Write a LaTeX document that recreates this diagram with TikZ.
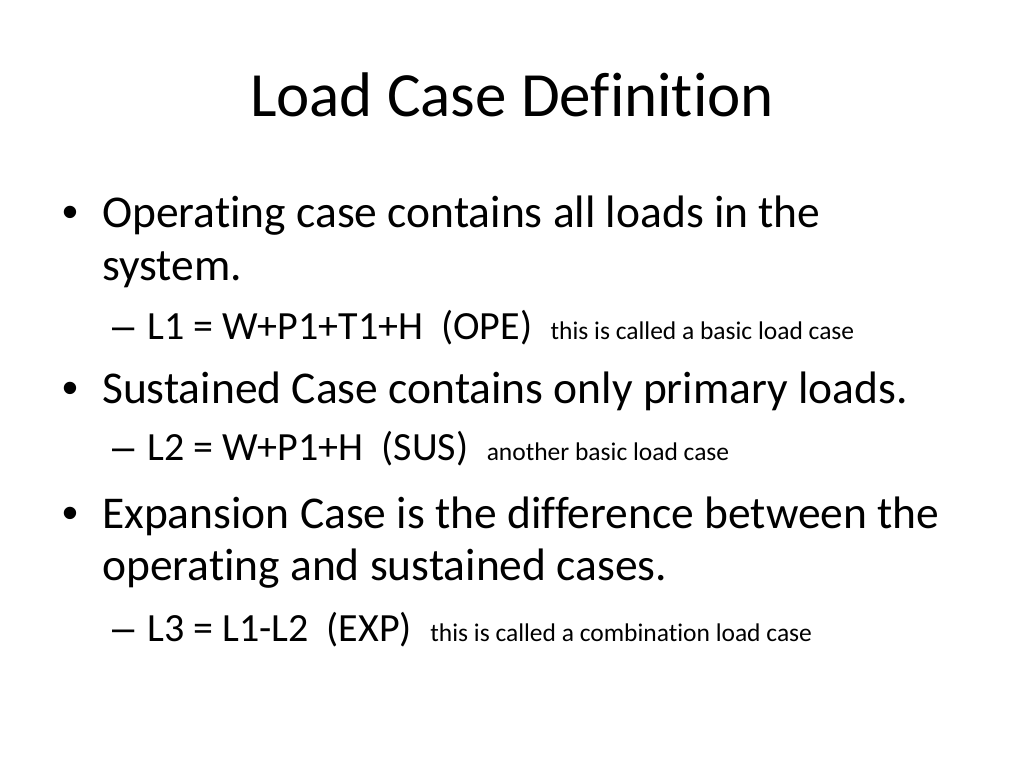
\documentclass[tikz,border=0pt]{standalone}
\usepackage{fontspec}
\setmainfont[RawFeature={-liga;-dlig;-clig}]{Carlito}
\newfontfamily\bulletfont{Liberation Sans}
\tikzset{
  slidetitle/.style = {inner sep=0pt, anchor=base,
    font=\fontsize{63}{75}\selectfont},
  bodytext/.style = {inner sep=0pt, anchor=base west,
    font=\fontsize{45.5}{54}\selectfont},% bullet level
  subtext/.style = {inner sep=0pt, anchor=base west,
    font=\fontsize{40}{48}\selectfont},% dash level
  notetext/.style = {inner sep=0pt, anchor=base west,
    font=\fontsize{25.5}{30}\selectfont},% small remark
  bulletmark/.style = {inner sep=0pt, anchor=base west,
    font=\bulletfont\fontsize{45.5}{54}\selectfont},
  dashmark/.style = {inner sep=0pt, anchor=base west,
    font=\bulletfont\fontsize{40}{48}\selectfont}
}
\begin{document}
\begin{tikzpicture}[x=1pt,y=-1pt]
\useasboundingbox (0,0) rectangle (1024,768);
\node [slidetitle] (title) at (512,116) {Load Case Definition};
% operating case
\node [bulletmark] (b1) at (62,227) {•};
\node [bodytext] (ope) at (102,227) {Operating case contains all loads in the};
\node [bodytext] (ope2) at (102,280) {system.};
\node [dashmark] (d1) at (112,339) {–};
\node [subtext] (l1) at (147,339) {L1 = W+P1+T1+H\ \ (OPE)};
\node [notetext] (n1) at ([xshift=18pt]l1.base east) {this is called a basic load case};
% sustained case
\node [bulletmark] (b2) at (62,403) {•};
\node [bodytext] (sus) at (102,403) {Sustained Case contains only primary loads.};
\node [dashmark] (d2) at (112,460) {–};
\node [subtext] (l2) at (147,460) {L2 = W+P1+H\ \ (SUS)};
\node [notetext] (n2) at ([xshift=18pt]l2.base east) {another basic load case};
% expansion case
\node [bulletmark] (b3) at (62,528) {•};
\node [bodytext] (exp) at (102,528) {Expansion Case is the difference between the};
\node [bodytext] (exp2) at (102,580) {operating and sustained cases.};
\node [dashmark] (d3) at (112,641) {–};
\node [subtext] (l3) at (147,641) {L3 = L1-L2\ \ (EXP)};
\node [notetext] (n3) at ([xshift=18pt]l3.base east) {this is called a combination load case};
\end{tikzpicture}
\end{document}
